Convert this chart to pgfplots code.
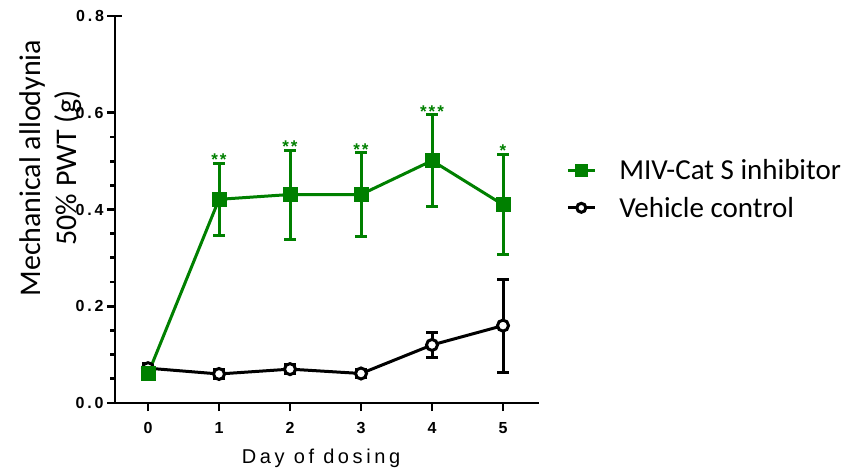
\documentclass[border=0pt]{standalone}
\usepackage{fontspec}
\setmainfont{Liberation Sans}
\newfontfamily\calibri{Carlito}
\newfontfamily\labfont[LetterSpace=18]{Liberation Sans}
\newcommand\tf{\bfseries\fontsize{16}{17}\selectfont}
\newcommand\tsp{\kern2.8pt}
\usepackage{pgfplots}
\pgfplotsset{compat=1.18}
\usepackage{pgfplotstable}
\definecolor{grn}{RGB}{0,128,0}
\pgfplotstableread{
x y e
0 0.060 0.000
1 0.421 0.074
2 0.431 0.092
3 0.431 0.086
4 0.501 0.095
5 0.410 0.104
}\green
\pgfplotstableread{
x y e
0 0.072 0.010
1 0.060 0.009
2 0.070 0.009
3 0.061 0.009
4 0.120 0.026
5 0.160 0.096
}\vehicle
\begin{document}
\begin{tikzpicture}
\path[use as bounding box] (-115pt,-64pt) rectangle (726pt,403pt);
\begin{axis}[
  at={(0,0)}, anchor=south west,
  scale only axis, width=424pt, height=387pt,
  xmin=-0.465, xmax=5.507, ymin=0, ymax=0.8,
  axis lines=left, axis line style={line width=2.8pt, -},
  xtick={0,...,5}, xticklabels={0,1,2,3,4,5},
  ytick={0,0.2,0.4,0.6}, yticklabels={0\tsp.\tsp0,0\tsp.\tsp2,0\tsp.\tsp4,0\tsp.\tsp6},
  extra y ticks={0.8}, extra y tick labels={0\tsp.\tsp8},
  extra y tick style={tick align=center, major tick length=15pt},
  minor y tick num=3,
  tick align=outside, major tick length=8pt, minor tick length=4.5pt,
  tick style={line width=2.8pt, black},
  tick label style={font=\tf},
  xticklabel style={yshift=-8pt},
  xlabel={Day of dosing},
  xlabel style={at={(axis description cs:0.486,-0.142)}, anchor=center, font=\labfont\fontsize{20}{21}\selectfont},
  ylabel={Mechanical allodynia\\50\% PWT (g)},
  ylabel style={at={(axis description cs:-0.151,0.607)}, anchor=center, align=center, font=\calibri\fontsize{30}{36}\selectfont},
  legend style={at={(axis description cs:1.064,0.553)}, anchor=west, draw=none, fill=none,
    font=\calibri\fontsize{29}{30}\selectfont, row sep=12pt, inner sep=0pt,
    /tikz/every odd column/.append style={column sep=21pt}},
  legend cell align=left,
  legend image code/.code={\draw[mark repeat=2,mark phase=2,#1] plot coordinates {(0pt,0pt) (13.5pt,0pt) (27pt,0pt)};},
  clip=false,
]
\addlegendimage{grn, line width=3pt, mark=square*, mark size=5pt, mark options={solid, fill=grn, draw=grn}}
\addlegendentry{MIV-Cat S inhibitor}
\addlegendimage{black, line width=3pt, mark=*, mark size=4.5pt, mark options={solid, fill=white, draw=black}}
\addlegendentry{Vehicle control}
\addplot[black, line width=3pt, mark=*, mark size=5.5pt, mark options={solid, fill=white, draw=black},
  error bars/.cd, y dir=both, y explicit,
  error bar style={line width=3pt, black},
  error mark options={rotate=90, line width=3pt, mark size=6pt, black}]
  table[x=x, y=y, y error=e] {\vehicle};
\addplot[grn, line width=3pt, mark=square*, mark size=6pt, mark options={solid, fill=grn, draw=grn},
  error bars/.cd, y dir=both, y explicit,
  error bar style={line width=3pt, grn},
  error mark options={rotate=90, line width=3pt, mark size=6pt, grn}]
  table[x=x, y=y, y error=e] {\green};
\node[font=\bfseries\fontsize{17}{17}\selectfont, text=grn, anchor=base] at (axis cs:1,0.490) {*\kern2pt*};
\node[font=\bfseries\fontsize{17}{17}\selectfont, text=grn, anchor=base] at (axis cs:2,0.518) {*\kern2pt*};
\node[font=\bfseries\fontsize{17}{17}\selectfont, text=grn, anchor=base] at (axis cs:3,0.512) {*\kern2pt*};
\node[font=\bfseries\fontsize{17}{17}\selectfont, text=grn, anchor=base] at (axis cs:4,0.591) {*\kern2pt*\kern2pt*};
\node[font=\bfseries\fontsize{17}{17}\selectfont, text=grn, anchor=base] at (axis cs:5,0.509) {*};
\end{axis}
\end{tikzpicture}
\end{document}
